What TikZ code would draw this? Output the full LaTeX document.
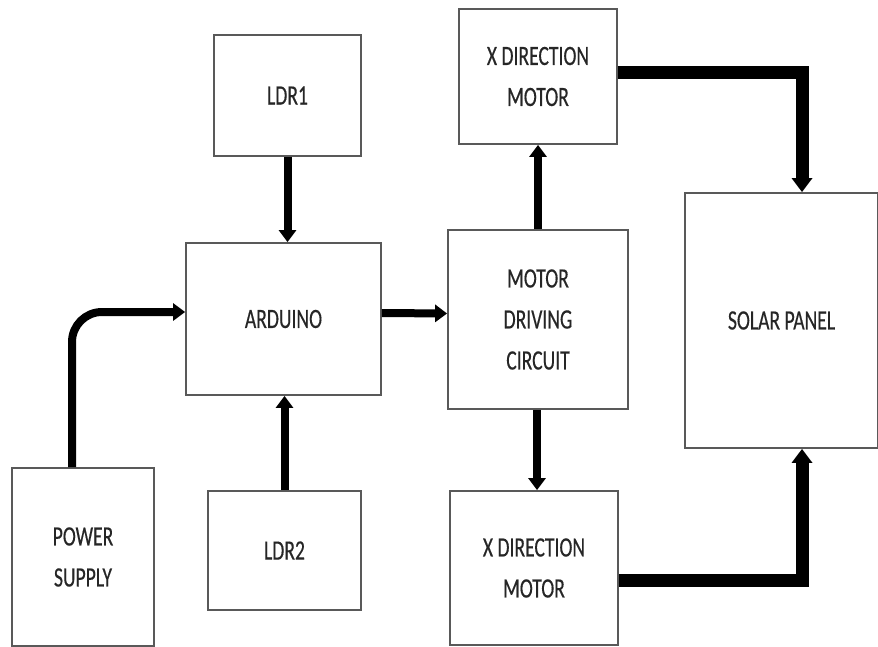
\documentclass[tikz,border=0pt]{standalone}
\usepackage{fontspec}
\setmainfont{Carlito}[FakeStretch=0.7, FakeBold=0.4]
\usetikzlibrary{arrows.meta}

\begin{document}
\begin{tikzpicture}[x=1pt, y=-1pt,
        block/.style={draw=black!65, line width=1.8pt, align=center, inner sep=0pt,
            text=black!85, font=\fontsize{28}{41}\selectfont},
        link/.style={line width=8pt, -{Triangle[width=17pt, length=12pt]}},
        thicklink/.style={line width=13pt, -{Triangle[width=20pt, length=14pt]}}
    ]
        \useasboundingbox (0,0) rectangle (878,647);
        \node[block, minimum width=147pt, minimum height=121pt] (ldr1) at (287.5,95.5) {LDR1};
        \node[block, minimum width=195pt, minimum height=152pt] (arduino) at (283.5,319) {ARDUINO};
        \node[block, minimum width=153pt, minimum height=119pt] (ldr2) at (284.5,550.5) {LDR2};
        \node[block, minimum width=142pt, minimum height=178pt] (power) at (83,557) {POWER\\SUPPLY};
        \node[block, minimum width=158pt, minimum height=135pt] (xtop) at (538,76.5) {X DIRECTION\\MOTOR};
        \node[block, minimum width=180pt, minimum height=179pt] (driver) at (538,319.5) {MOTOR\\DRIVING\\CIRCUIT};
        \node[block, minimum width=168pt, minimum height=154pt] (xbot) at (534,568) {X DIRECTION\\MOTOR};
        \node[block, minimum width=193pt, minimum height=255pt] (solar) at (781.5,320.5) {SOLAR PANEL};
        \draw
            [link] (ldr1.south) -- (ldr1.south |- arduino.north);
        \draw
            [link] (ldr2.north) -- (ldr2.north |- arduino.south);
        \draw
            [link] ([yshift=6pt]arduino.east) -- ([yshift=6pt]driver.west);
        \draw
            [link, rounded corners=30pt] ([xshift=-11pt]power.north) |- ([yshift=7pt]arduino.west);
        \draw
            [link] (driver.north) -- (driver.north |- xtop.south);
        \draw
            [link] ([xshift=-1pt]driver.south) -- ([xshift=-1pt]driver.south |- xbot.north);
        \draw
            [thicklink] ([yshift=4pt]xtop.east) -| ([xshift=20.5pt]solar.north);
        \draw
            [thicklink] ([yshift=-12pt]xbot.east) -| ([xshift=20.5pt]solar.south);
    \end{tikzpicture}
\end{document}
